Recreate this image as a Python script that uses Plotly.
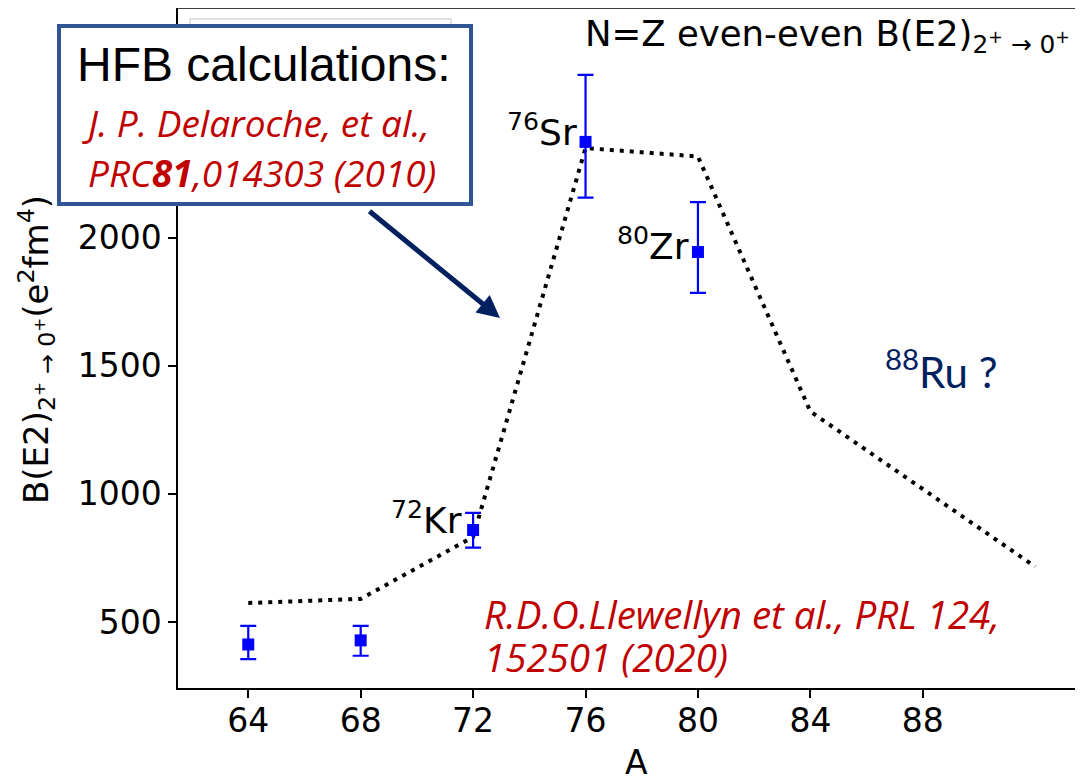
import plotly.graph_objects as go

# measured B(E2) values (e^2 fm^4)
A_exp = [64, 68, 72, 76, 80]
B_exp = [412, 428, 859, 2375, 1945]
err_up = [73, 57, 67, 262, 195]
err_down = [57, 60, 69, 218, 160]

# HFB calculation (Delaroche et al.)
A_hfb = [64, 68, 72, 76, 80, 84, 92]
B_hfb = [574, 590, 832, 2351, 2318, 1322, 716]

x_ticks = [64, 68, 72, 76, 80, 84, 88]
y_ticks = [500, 1000, 1500, 2000, 2500]

labels = ["<sup>72</sup>Kr", "<sup>76</sup>Sr", "<sup>80</sup>Zr"]
label_A = [72, 76, 80]
label_B = [859, 2375, 1945]

# plot area in screen pixels (page body adds an 8px offset)
OFF = 8
L, R, T, B = 178, 1083, 8, 688
W, H = R - L, B - T


def px(x):
    return (x - L) / W


def py(y):
    return (B - y) / H


AX_FONT = dict(family="DejaVu Sans", size=33, color="black")
LBL_FONT = dict(family="DejaVu Sans", size=36, color="black")
RED = "#C00000"
NAVY = "#002060"
RED_FONT = dict(family="Open Sans", size=37, color=RED)

fig = go.Figure()

fig.add_trace(go.Scatter(
    x=A_hfb, y=B_hfb, mode="lines",
    line=dict(color="black", width=4, dash="4px,6px"),
    hoverinfo="skip"
))

fig.add_trace(go.Scatter(
    x=A_exp, y=B_exp, mode="markers",
    marker=dict(symbol="square", size=12, color="#0000FF"),
    error_y=dict(type="data", array=err_up, arrayminus=err_down,
                 color="#0000FF", thickness=2.2, width=8),
))

annotations = []

# isotope labels next to the points
for t, a, b, dx, dy in zip(labels, label_A, label_B, [-9, -7, -7], [12, 12, 8]):
    annotations.append(dict(
        x=a, y=b, xref="x", yref="y", text=t, showarrow=False,
        xanchor="right", yanchor="middle", xshift=dx, yshift=dy,
        font=LBL_FONT
    ))

# title at top right (cut off by the frame)
annotations.append(dict(
    x=px(583), y=py(36), xref="paper", yref="paper",
    text="N=Z even-even B(E2)<sub>2<sup>+</sup> \u2192 0<sup>+</sup></sub>",
    showarrow=False, xanchor="left", yanchor="middle",
    font=dict(family="DejaVu Sans", size=35.5, color="black")
))

# axis titles
annotations.append(dict(
    x=px(636), y=py(762), xref="paper", yref="paper", text="A",
    showarrow=False, xanchor="center", yanchor="middle", font=AX_FONT
))
annotations.append(dict(
    x=px(36), y=py(350), xref="paper", yref="paper",
    text="B(E2)<sub>2<sup>+</sup> \u2192 0<sup>+</sup></sub>(e<sup>2</sup>fm<sup>4</sup>)",
    showarrow=False, textangle=-90, xanchor="center", yanchor="middle",
    font=dict(family="DejaVu Sans", size=34, color="black")
))

# HFB box text
annotations.append(dict(
    x=px(263), y=py(64), xref="paper", yref="paper", text="HFB calculations:",
    showarrow=False, xanchor="center", yanchor="middle",
    font=dict(family="Liberation Sans", size=48, color="black")
))
annotations.append(dict(
    x=px(256), y=py(123), xref="paper", yref="paper",
    text="<i>J. P. Delaroche, et al.,</i>",
    showarrow=False, xanchor="center", yanchor="middle", font=RED_FONT
))
annotations.append(dict(
    x=px(262), y=py(172), xref="paper", yref="paper",
    text="<i>PRC<b>81</b>,014303 (2010)</i>",
    showarrow=False, xanchor="center", yanchor="middle", font=RED_FONT
))

# reference of the data
BOT_FONT = dict(family="Open Sans", size=38.5, color=RED)
annotations.append(dict(
    x=px(482), y=py(614), xref="paper", yref="paper",
    text="<i>R.D.O.Llewellyn et al., PRL 124,</i>",
    showarrow=False, xanchor="left", yanchor="middle", font=BOT_FONT
))
annotations.append(dict(
    x=px(482), y=py(657), xref="paper", yref="paper",
    text="<i>152501 (2020)</i>",
    showarrow=False, xanchor="left", yanchor="middle", font=BOT_FONT
))

# 88Ru ?
annotations.append(dict(
    x=px(883), y=py(369), xref="paper", yref="paper",
    text="<sup>88</sup>Ru ?", showarrow=False, xanchor="left", yanchor="middle",
    font=dict(family="Lato", size=42, color=NAVY)
))

# arrow from the box to the HFB curve
annotations.append(dict(
    x=px(500), y=py(318), xref="paper", yref="paper",
    ax=368 - 500, ay=210 - 318, axref="pixel", ayref="pixel",
    text="", showarrow=True, arrowhead=2, arrowsize=0.9,
    arrowwidth=5, arrowcolor=NAVY
))

shapes = [
    # top frame line
    dict(type="line", xref="paper", yref="paper", x0=0, x1=1, y0=1, y1=1,
         line=dict(color="black", width=1.5)),
    # faint legend frame behind the box
    dict(type="rect", xref="paper", yref="paper",
         x0=px(190), x1=px(451), y0=py(120), y1=py(19),
         line=dict(color="#D8D8D8", width=1.5), fillcolor="white"),
    # HFB box
    dict(type="rect", xref="paper", yref="paper",
         x0=px(59), x1=px(471), y0=py(204), y1=py(26),
         line=dict(color="#2F5597", width=4), fillcolor="white"),
]

fig.update_layout(
    width=1083 - OFF, height=779 - OFF,
    margin=dict(l=L - OFF, r=0, t=T - OFF, b=779 - B),
    paper_bgcolor="white", plot_bgcolor="white",
    showlegend=False,
    annotations=annotations,
    shapes=shapes,
    xaxis=dict(
        range=[61.5, 93.7], tickvals=x_ticks, ticks="outside", ticklen=8,
        tickwidth=1.5, tickcolor="black", showline=True, linecolor="black",
        linewidth=1.5, showgrid=False, zeroline=False, tickfont=AX_FONT,
        ticklabelstandoff=-5
    ),
    yaxis=dict(
        range=[242, 2898], tickvals=y_ticks, ticks="outside", ticklen=8,
        tickwidth=1.5, tickcolor="black", showline=True, linecolor="black",
        linewidth=1.5, showgrid=False, zeroline=False, tickfont=AX_FONT
    ),
)

fig.write_html("out.html")
